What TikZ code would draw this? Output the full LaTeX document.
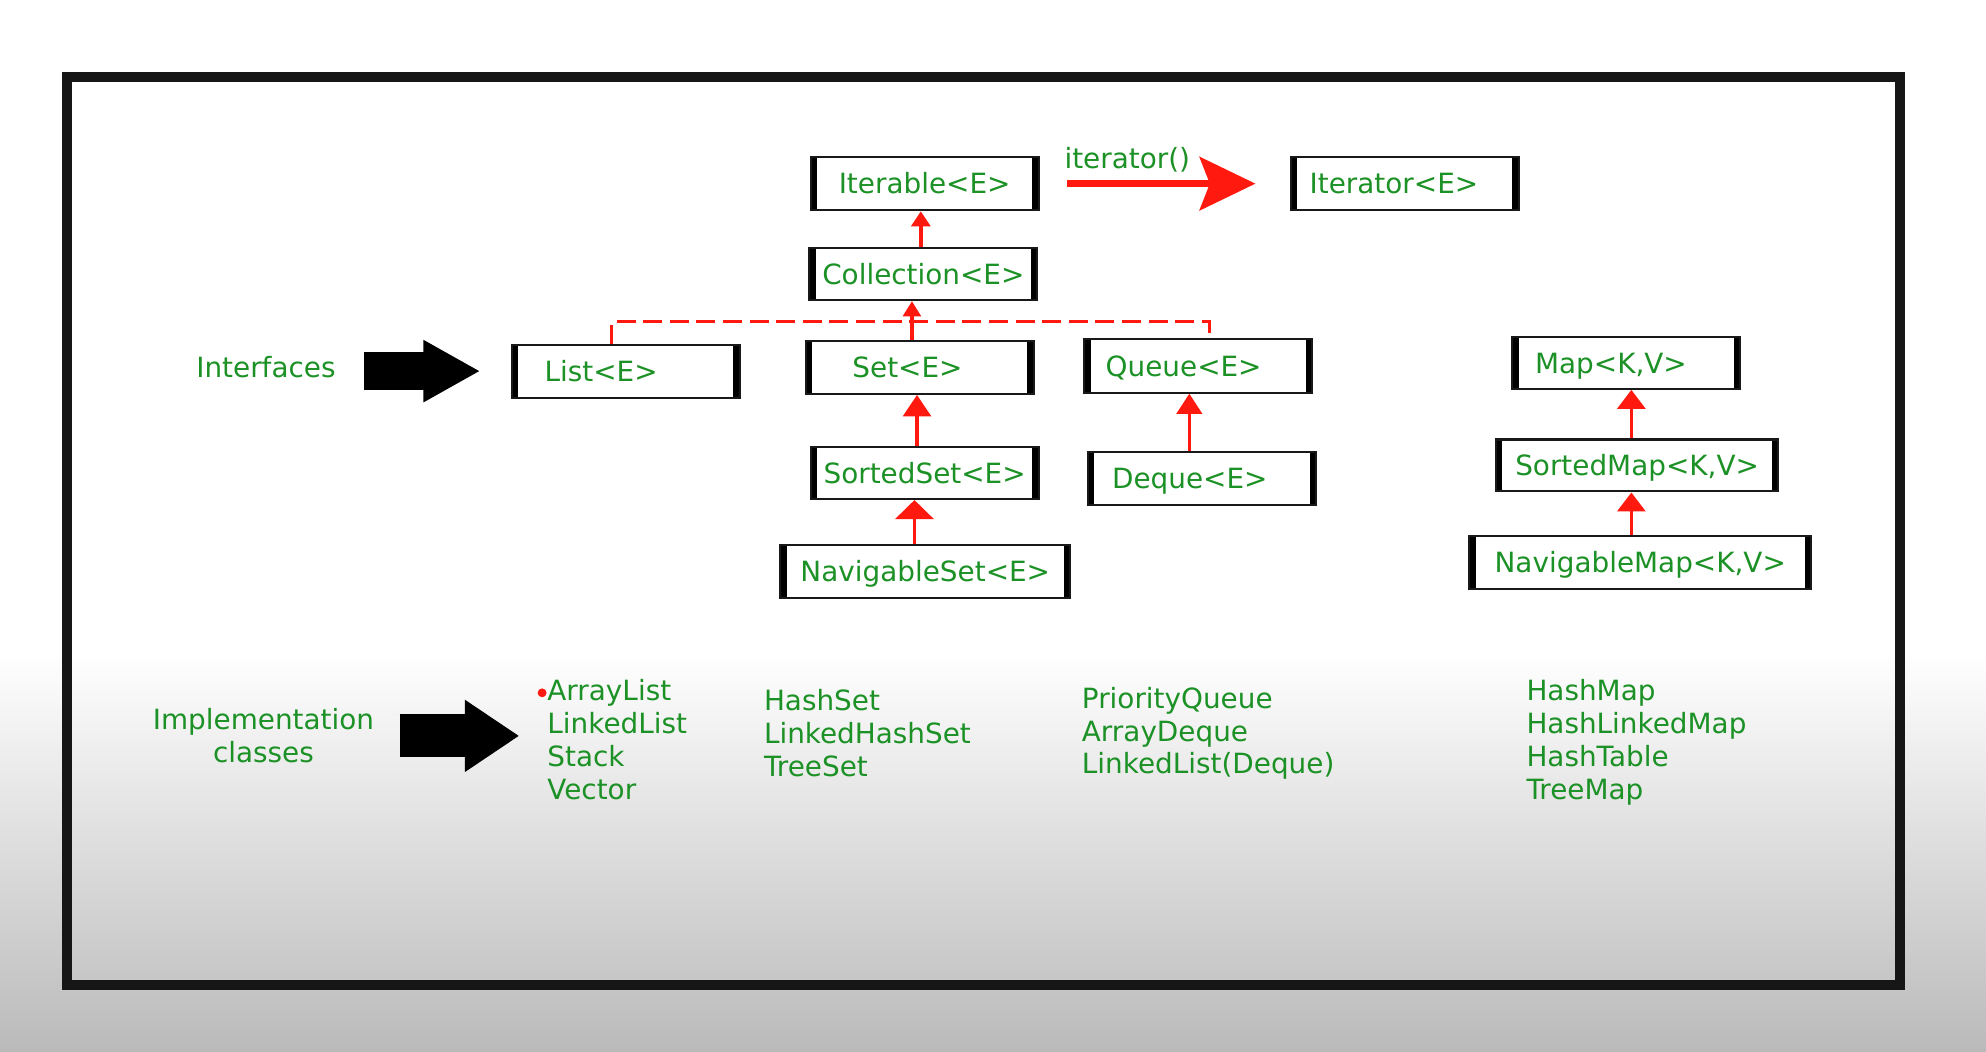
\documentclass[tikz,border=0pt]{standalone}
\usepackage{fontspec}
\setmainfont{DejaVu Sans}
\usetikzlibrary{arrows.meta}
\definecolor{tgreen}{RGB}{28,145,38}
\definecolor{tred}{RGB}{255,25,15}
\definecolor{bggray}{RGB}{186,186,186}
\definecolor{frameblack}{RGB}{22,22,22}
\begin{document}
\begin{tikzpicture}[x=1pt,y=-1pt,
  lbl/.style={font=\fontsize{22}{26}\selectfont, text=tgreen, inner sep=0pt},
  ibox/.style={lbl, draw=black!90, line width=1.6pt, fill=white, minimum height=42pt,
    inner ysep=0pt, text height=18pt, text depth=2pt,
    path picture={
      \fill[black] (path picture bounding box.north west) rectangle ([xshift=5pt]path picture bounding box.south west);
      \fill[black] (path picture bounding box.north east) rectangle ([xshift=-5pt]path picture bounding box.south east);
    }},
  cbox/.style={ibox, minimum width=#1, align=center},
  lbox/.style 2 args={ibox, text width=#1, inner xsep=#2, align=left},
  inh/.style 2 args={draw=tred, line width=2.8pt, -{Triangle[width=#1, length=#2]}},
  dline/.style={draw=tred, line width=2.6pt, dash pattern=on 15pt off 6pt},
  bigred/.style={draw=tred, line width=5.5pt, -{Stealth[width=42pt, length=44pt, inset=8pt]}},
  fatarrow/.style={draw=black, line width=30pt, -{Triangle[width=46pt, length=45pt]}},
  fatarrowb/.style={draw=black, line width=34pt, -{Triangle[width=54pt, length=43pt]}}
]
% background
\fill[white] (0,0) rectangle (1568,830);
\shade[top color=white, bottom color=bggray] (0,515) rectangle (1568,830);
\draw[frameblack, line width=8pt] (53,61) rectangle (1500,778);
\useasboundingbox (0,0) rectangle (1568,830);

% interface boxes
\node[cbox=180pt] (iterable) at (730,145) {Iterable<E>};
\node[lbox={150pt}{15pt}] (iterator) at (1109,145) {Iterator<E>};
\node[cbox=180pt, minimum height=41pt] (collection) at (729,216.5) {Collection<E>};
\node[lbox={128pt}{26pt}] (list) at (494,293) {List<E>};
\node[lbox={106pt}{37pt}] (set) at (726,290) {Set<E>};
\node[lbox={146pt}{17pt}] (queue) at (946,289) {Queue<E>};
\node[cbox=180pt, minimum height=41pt] (sortedset) at (730,373.5) {SortedSet<E>};
\node[lbox={142pt}{19pt}] (deque) at (949,378) {Deque<E>};
\node[cbox=229pt] (navset) at (730.5,451) {NavigableSet<E>};
\node[lbox={144pt}{18pt}, minimum height=41pt] (map) at (1284,286.5) {Map<K,V>};
\node[cbox=223pt, minimum height=41pt] (sortedmap) at (1292.5,367.5) {SortedMap<K,V>};
\node[cbox=270pt] (navmap) at (1295,444) {NavigableMap<K,V>};

% iterator relation
\draw[bigred, shorten <=22pt, shorten >=27pt] (iterable.east) -- (iterator.west);
\node[lbl] (itlabel) at (890,126) {iterator()};

% inheritance connectors
\coordinate (hub) at (720,254);
\draw[inh={15pt}{12pt}] ([xshift=-2pt]collection.north) -- ([xshift=-3pt]iterable.south);
\draw[dline] ([xshift=-11pt]list.north) |- (hub) -| ([xshift=9pt]queue.north);
\draw[inh={14pt}{12pt}] ([xshift=-6pt]set.north) -- ([xshift=-9pt]collection.south);
\draw[inh={22pt}{17pt}] ([xshift=-6pt]sortedset.north) -- ([xshift=-2pt]set.south);
\draw[inh={30pt}{15pt}] ([xshift=-8.5pt]navset.north) -- ([xshift=-8pt]sortedset.south);
\draw[inh={20pt}{16pt}] ([xshift=-10pt]deque.north) -- ([xshift=-7pt]queue.south);
\draw[inh={22pt}{15pt}] ([xshift=-4.5pt]sortedmap.north) -- ([xshift=4pt]map.south);
\draw[inh={22pt}{15pt}] ([xshift=-7pt]navmap.north) -- ([xshift=-4.5pt]sortedmap.south);

% left labels and fat arrows
\node[lbl] (interfaces) at (210,290) {Interfaces};
\draw[fatarrow, shorten <=22pt, shorten >=24pt] (interfaces.east |- list.west) -- (list.west);

\node[lbl, align=center] (impl) at (208,581) {Implementation\\classes};
\node[lbl, align=left, anchor=west] (listimpl) at (432,584) {ArrayList\\LinkedList\\Stack\\Vector};
\draw[fatarrowb, shorten <=20pt, shorten >=22pt] (impl.east) -- (impl.east -| listimpl.west);
\fill[tred] (428,547) circle (3.5pt);

\node[lbl, align=left, anchor=west] (setimpl) at (603,579) {HashSet\\LinkedHashSet\\TreeSet};
\node[lbl, align=left, anchor=west] (queueimpl) at (854,579) {PriorityQueue\\ArrayDeque\\LinkedList(Deque)};
\node[lbl, align=left, anchor=west] (mapimpl) at (1205,586) {HashMap\\HashLinkedMap\\HashTable\\TreeMap};
\end{tikzpicture}
\end{document}
